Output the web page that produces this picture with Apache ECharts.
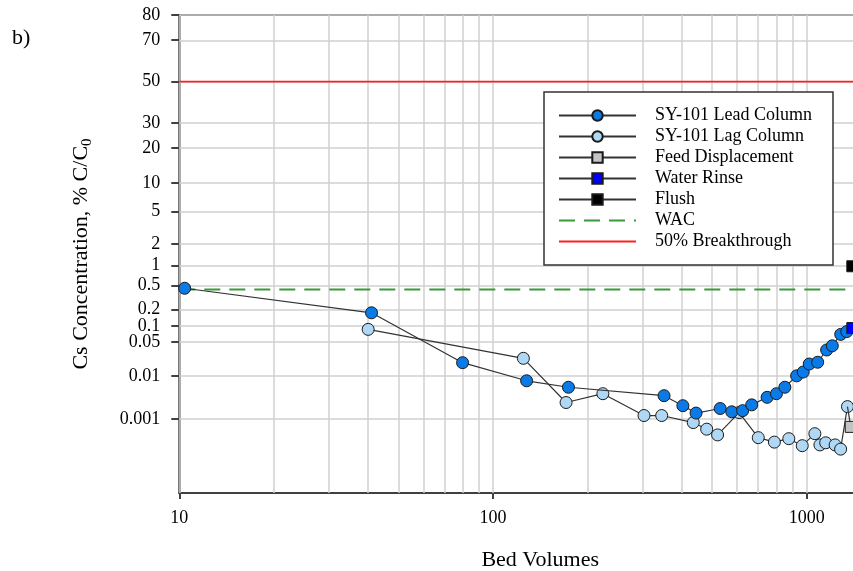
<!DOCTYPE html>
<html><head><meta charset="utf-8">
<script src="https://cdn.jsdelivr.net/npm/echarts@6/dist/echarts.min.js"></script>
<style>html,body{margin:0;padding:0;background:#fff}#c{width:853px;height:571px}</style>
</head><body><div id="c"></div>
<script>
// ---- data (x = bed volumes, y = % C/C0) ----
const yTickLabels = ['80','70','50','30','20','10','5','2','1','0.5','0.2','0.1','0.05','0.01','0.001'];
const xMajorTicks = [10, 100, 1000];
const xGridValues = [10,20,30,40,50,60,70,80,90,100,200,300,400,500,600,700,800,900,1000,2000];
const leadColumn = [[10.4,0.45],[41,0.174],[80,0.0191],[128,0.0078],[174,0.0056],[351,0.0036],[403,0.0021],[444,0.0014],[530,0.0018],[577,0.0015],[625,0.0016],[668,0.0022],[748,0.0033],[801,0.0040],[852,0.0056],[929,0.0100],[975,0.0121],[1019,0.0179],[1084,0.0195],[1158,0.0347],[1207,0.042],[1284,0.070],[1342,0.079]];
const lagColumn = [[40,0.087],[125,0.0235],[171,0.0025],[224,0.0040],[303,0.00122],[345,0.00122],[435,0.00082],[480,0.00056],[520,0.00040],[609,0.00144],[701,0.00034],[789,0.00026],[877,0.00032],[968,0.00021],[1062,0.00043],[1102,0.00022],[1150,0.00025],[1232,0.00022],[1283,0.00017],[1349,0.0020]];
const feedDisplacement = [[1349,0.0020],[1382,0.00064]];
const waterRinse = [[1398,0.092]];
const flush = [[1398,0.98]];
const wacLevel = 0.43;
const breakthroughLevel = 50;
const yMinPct = 0.00001, yMaxPct = 80;
const xMin = 10, xMax = 2000;

// inverse normal CDF (Acklam) -> probability axis transform
function probit(p){
  const a=[-3.969683028665376e+01,2.209460984245205e+02,-2.759285104469687e+02,1.383577518672690e+02,-3.066479806614716e+01,2.506628277459239e+00];
  const b=[-5.447609879822406e+01,1.615858368580409e+02,-1.556989798598866e+02,6.680131188771972e+01,-1.328068155288572e+01];
  const c=[-7.784894002430293e-03,-3.223964580411365e-01,-2.400758277161838e+00,-2.549671010115056e+00,4.374664141464968e+00,2.938163982698783e+00];
  const d=[7.784695709041462e-03,3.224671290700398e-01,2.445134137142996e+00,3.754408661907416e+00];
  const pl=0.02425, ph=1-pl; let q,r;
  if(p<pl){q=Math.sqrt(-2*Math.log(p));return (((((c[0]*q+c[1])*q+c[2])*q+c[3])*q+c[4])*q+c[5])/((((d[0]*q+d[1])*q+d[2])*q+d[3])*q+1);}
  if(p<=ph){q=p-0.5;r=q*q;return (((((a[0]*r+a[1])*r+a[2])*r+a[3])*r+a[4])*r+a[5])*q/(((((b[0]*r+b[1])*r+b[2])*r+b[3])*r+b[4])*r+1);}
  q=Math.sqrt(-2*Math.log(1-p));return -(((((c[0]*q+c[1])*q+c[2])*q+c[3])*q+c[4])*q+c[5])/((((d[0]*q+d[1])*q+d[2])*q+d[3])*q+1);
}
const Z = v => probit(v/100);
const toXY = arr => arr.map(([x,y]) => [x, Z(y)]);
const yTickZ = yTickLabels.map(v => Z(parseFloat(v)));

const serif = 'Liberation Serif';
const chart = echarts.init(document.getElementById('c'), null, {renderer:'canvas'});
const markerBorder = {borderColor:'#1a1a1a', borderWidth:1};
const lineSt = {color:'#333', width:1.2};

chart.setOption({
  animation:false,
  backgroundColor:'#fff',
  graphic:[{type:'text', left:12, top:27, style:{text:'b)', font:'22px "Liberation Serif"', fill:'#000'}}],
  grid:{left:179.3, top:15, width:721.8, height:478, show:true, borderColor:'#404040', borderWidth:2, outerBoundsMode:'none', containLabel:false},
  legend:{
    orient:'vertical', left:544, top:92, padding:[13,21,13,14],
    itemWidth:77, itemHeight:13, itemGap:0, z:20,
    borderColor:'#333', borderWidth:1.5, backgroundColor:'#fff',
    textStyle:{fontFamily:serif, fontSize:18, color:'#000', lineHeight:21, padding:[0,0,0,14]},
    data:['SY-101 Lead Column','SY-101 Lag Column','Feed Displacement','Water Rinse','Flush',
      {name:'WAC', itemStyle:{opacity:0}}, {name:'50% Breakthrough', itemStyle:{opacity:0}}]
  },
  xAxis:{
    type:'log', logBase:10, min:xMin, max:xMax,
    name:'Bed Volumes', nameLocation:'middle', nameGap:56,
    nameTextStyle:{fontFamily:serif, fontSize:22, color:'#000'},
    axisLine:{show:true, onZero:false, lineStyle:{color:'#404040', width:2}},
    axisTick:{show:true, inside:false, length:6, lineStyle:{color:'#404040', width:2}, customValues:xMajorTicks},
    axisLabel:{fontFamily:serif, fontSize:18, color:'#000', margin:16, customValues:xMajorTicks,
      formatter:function(v){return String(Math.round(v));}},
    splitLine:{show:false}, minorSplitLine:{show:false}
  },
  yAxis:{
    type:'value', min:Z(yMinPct), max:Z(yMaxPct),
    name:'Cs Concentration, % C/C{sub|0}', nameLocation:'middle', nameGap:85, nameRotate:90,
    nameTextStyle:{fontFamily:serif, fontSize:22, color:'#000', rich:{sub:{fontFamily:serif, fontSize:15, color:'#000', padding:[12,0,0,0]}}},
    axisLine:{show:true, onZero:false, lineStyle:{color:'#404040', width:2}},
    axisTick:{show:true, inside:false, length:8, lineStyle:{color:'#404040', width:2}, customValues:yTickZ},
    axisLabel:{fontFamily:serif, fontSize:18, color:'#000', margin:19, customValues:yTickZ,
      formatter:function(v){let best=0,bd=1e9;yTickZ.forEach((z,i)=>{const d=Math.abs(z-v);if(d<bd){bd=d;best=i;}});return yTickLabels[best];}},
    splitLine:{show:false}
  },
  series:[
    {name:'grid', type:'line', data:[], z:1, silent:true,
      markLine:{z:1, silent:true, symbol:['none','none'], label:{show:false}, animation:false,
        lineStyle:{color:'#d0d0d0', width:1.5, type:'solid'},
        data:[...yTickZ.map(z=>({yAxis:z})), ...xGridValues.map(x=>({xAxis:x}))]}},
    {name:'WAC', type:'line', symbol:'none', z:3, data:[[xMin,Z(wacLevel)],[xMax,Z(wacLevel)]],
      lineStyle:{color:'#3a9a3a', width:1.8, type:[16,9]}, itemStyle:{color:'#3a9a3a'}},
    {name:'50% Breakthrough', type:'line', symbol:'none', z:3, data:[[xMin,Z(breakthroughLevel)],[xMax,Z(breakthroughLevel)]],
      lineStyle:{color:'#ff2020', width:1.6}, itemStyle:{color:'#ff2020'}},
    {name:'SY-101 Lag Column', type:'line', z:6, data:toXY(lagColumn), symbol:'circle', symbolSize:12,
      lineStyle:lineSt, itemStyle:Object.assign({color:'#b0d8f5'}, markerBorder)},
    {name:'SY-101 Lead Column', type:'line', z:7, data:toXY(leadColumn), symbol:'circle', symbolSize:12,
      lineStyle:lineSt, itemStyle:Object.assign({color:'#0a7ae6'}, markerBorder)},
    {name:'Feed Displacement', type:'line', z:7, data:toXY(feedDisplacement).map((p,i)=>i===0?{value:p,symbol:'none'}:{value:p}), symbol:'rect', symbolSize:11,
      lineStyle:lineSt, itemStyle:Object.assign({color:'#c4c4c4'}, markerBorder)},
    {name:'Water Rinse', type:'line', z:8, data:toXY(waterRinse), symbol:'rect', symbolSize:11,
      lineStyle:lineSt, itemStyle:Object.assign({color:'#0000ff'}, markerBorder)},
    {name:'Flush', type:'line', z:8, data:toXY(flush), symbol:'rect', symbolSize:11,
      lineStyle:lineSt, itemStyle:Object.assign({color:'#000000'}, markerBorder)}
  ]
});
</script></body></html>
